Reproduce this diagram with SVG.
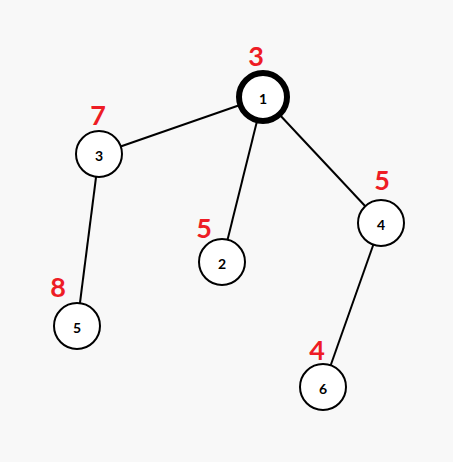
<svg xmlns="http://www.w3.org/2000/svg" width="453" height="462" viewBox="0 0 453 462">
<style>
.n{fill:#fff;stroke:#000;stroke-width:2}
.t{font-family:Lato,"DejaVu Sans",sans-serif;font-weight:bold;font-size:14px;text-anchor:middle;dominant-baseline:central;fill:#000}
.w{font-family:Lato,"DejaVu Sans",sans-serif;font-weight:bold;font-size:27px;text-anchor:middle;fill:#ee1c25}
.e line{stroke:#000;stroke-width:2}
</style>
<rect width="453" height="462" fill="#f8f8f8"/>
<g class="e" id="edges">
<line x1="263" y1="97" x2="99" y2="154"/>
<line x1="263" y1="97" x2="222" y2="262"/>
<line x1="263" y1="97" x2="381" y2="223"/>
<line x1="99" y1="154" x2="77" y2="326"/>
<line x1="381" y1="223" x2="323" y2="387"/>
</g>
<g id="node1"><circle class="n" cx="263" cy="97" r="24" style="stroke-width:6"/><text class="t" x="263" y="98">1</text><text class="w" x="256" y="66">3</text></g>
<g id="node3"><circle class="n" cx="99" cy="154" r="23"/><text class="t" x="99" y="155">3</text><text class="w" x="98" y="125">7</text></g>
<g id="node2"><circle class="n" cx="222" cy="262" r="23"/><text class="t" x="222" y="263">2</text><text class="w" x="204" y="238">5</text></g>
<g id="node4"><circle class="n" cx="381" cy="223" r="23"/><text class="t" x="381" y="224">4</text><text class="w" x="382" y="190">5</text></g>
<g id="node5"><circle class="n" cx="77" cy="326" r="23"/><text class="t" x="77" y="327">5</text><text class="w" x="58" y="297">8</text></g>
<g id="node6"><circle class="n" cx="323" cy="387" r="23"/><text class="t" x="323" y="388">6</text><text class="w" x="317" y="360">4</text></g>
</svg>
